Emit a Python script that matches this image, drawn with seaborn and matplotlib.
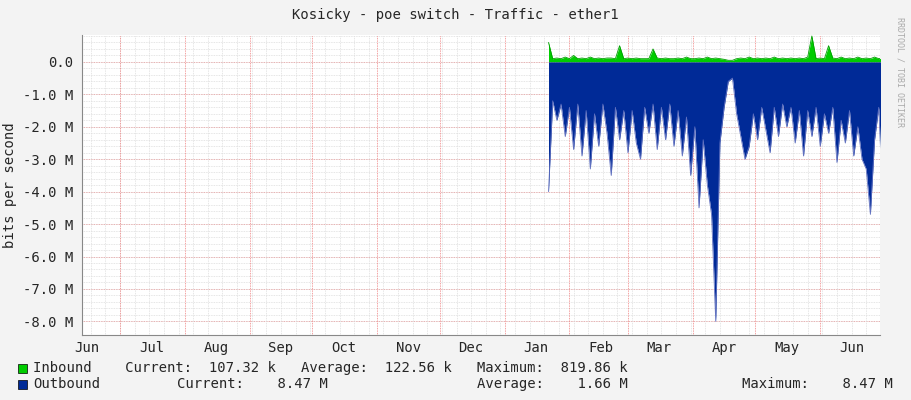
import numpy as np
import matplotlib
matplotlib.use("Agg")
import matplotlib.pyplot as plt
import seaborn as sns

sns.set_style("white")
plt.rcParams['font.family'] = ['DejaVu Sans Mono']

# days since Jul 1 (x axis), two-day samples
start_day = 205
outbound_M = [4.0,1.2,1.8,1.3,2.3,1.4,2.7,1.3,2.9,1.5,3.3,1.6,2.6,1.3,2.2,3.5,1.4,2.4,1.5,2.8,
              1.5,2.5,3.0,1.4,2.2,1.3,2.7,1.4,2.4,1.3,2.6,1.5,2.9,1.7,3.5,2.0,4.5,2.4,3.8,4.7,
              8.0,2.5,1.4,0.6,0.5,1.6,2.3,3.0,2.6,1.6,2.4,1.4,2.1,2.8,1.4,2.3,1.3,2.0,1.4,2.5,
              1.5,2.9,1.5,2.3,1.4,2.6,1.6,2.2,1.4,3.1,1.8,2.5,1.5,2.9,2.0,3.0,3.3,4.7,2.4,1.4,4.4]
inbound_M = [0.6,0.1,0.12,0.1,0.15,0.1,0.2,0.1,0.12,0.1,0.15,0.1,0.12,0.1,0.12,0.12,0.1,0.5,0.1,0.12,
             0.1,0.12,0.1,0.1,0.1,0.4,0.12,0.1,0.12,0.1,0.1,0.12,0.1,0.15,0.1,0.1,0.12,0.1,0.15,0.1,
             0.12,0.1,0.08,0.05,0.05,0.1,0.12,0.1,0.15,0.1,0.12,0.1,0.12,0.1,0.15,0.1,0.12,0.1,0.12,0.1,
             0.12,0.1,0.15,0.8,0.1,0.12,0.1,0.5,0.12,0.1,0.15,0.1,0.12,0.1,0.15,0.1,0.12,0.1,0.15,0.1,0.12]
days = start_day + 2*np.arange(len(outbound_M))
out = -np.array(outbound_M)
inb = np.array(inbound_M)

month_starts = [0,31,62,92,123,153,184,215,243,274,304,335]
month_mids = [-16,15,46,77,107,138,168,199,230,258,289,319,350]
month_labels = ["Jun","Jul","Aug","Sep","Oct","Nov","Dec","Jan","Feb","Mar","Apr","May","Jun"]
ytick_vals = [0,-1,-2,-3,-4,-5,-6,-7,-8]
ytick_labels = ["0.0","-1.0 M","-2.0 M","-3.0 M","-4.0 M","-5.0 M","-6.0 M","-7.0 M","-8.0 M"]

fig = plt.figure(figsize=(9.11,4.0), dpi=100, facecolor="#F3F3F3")
ax = fig.add_axes([82/911, 65/400, 798/911, 300/400])
ax.set_facecolor("white")
xmin, xmax = -18.2, 363.6
ax.set_xlim(xmin, xmax)
ax.set_ylim(-8.42, 0.83)

for y in np.arange(-8.0, 0.81, 0.2):
    ax.axhline(y, color="#DDDDDD", lw=0.6, ls=(0,(1,1)), zorder=0)
for y in ytick_vals:
    ax.axhline(y, color="#E8A0A0", lw=0.6, ls=(0,(1,1)), zorder=0)
for d in np.arange(-14, 364, 7):
    ax.axvline(d, color="#DDDDDD", lw=0.6, ls=(0,(1,1)), zorder=0)
for d in month_starts:
    ax.axvline(d, color="#F08080", lw=0.6, ls=(0,(1,1)), zorder=0)

ax.fill_between(days, 0, inb, color="#00CC00", lw=0, zorder=2)
ax.fill_between(days, 0, out, color="#002A97", lw=0, zorder=2)
sns.lineplot(x=days, y=out, ax=ax, color="#6070C0", lw=0.6, zorder=3)
sns.lineplot(x=days, y=inb, ax=ax, color="#00A000", lw=0.6, zorder=3)

ax.set_yticks(ytick_vals)
ax.set_yticklabels(ytick_labels, fontsize=10)
ax.set_xticks(month_starts)
ax.set_xticklabels([])
ax.set_xticks(month_mids, minor=True)
ax.set_xticklabels(month_labels, minor=True, fontsize=10)
ax.tick_params(axis="x", which="minor", length=0, pad=4)
ax.tick_params(axis="x", which="major", length=3, color="#C00000")
ax.tick_params(axis="y", length=3, color="#C00000")
for s in ["top","right"]:
    ax.spines[s].set_visible(False)
for s in ["left","bottom"]:
    ax.spines[s].set_color("#888888")
ax.set_ylabel("bits per second", fontsize=10)

fig.text(0.5, 1-15/400, "Kosicky - poe switch - Traffic - ether1", ha="center", va="center", fontsize=10)
fig.text(1-11/911, 0.82, "RRDTOOL / TOBI OETIKER", rotation=270, ha="center", va="center", fontsize=6, color="#AAAAAA")

fig.patches.append(plt.Rectangle((18/911, 1-373/400), 9/911, 9/400, transform=fig.transFigure, color="#00CC00", ec="black", lw=0.5))
fig.patches.append(plt.Rectangle((18/911, 1-389/400), 9/911, 9/400, transform=fig.transFigure, color="#002A97", ec="black", lw=0.5))
fig.text(33/911, 1-368/400, "Inbound    Current:  107.32 k   Average:  122.56 k   Maximum:  819.86 k", va="center", fontsize=10)
fig.text(33/911, 1-384/400, "Outbound", va="center", fontsize=10)
fig.text(328/911, 1-384/400, "Current:    8.47 M", ha="right", va="center", fontsize=10)
fig.text(628/911, 1-384/400, "Average:    1.66 M", ha="right", va="center", fontsize=10)
fig.text(893/911, 1-384/400, "Maximum:    8.47 M", ha="right", va="center", fontsize=10)

fig.savefig("out.png", dpi=100, facecolor=fig.get_facecolor())
